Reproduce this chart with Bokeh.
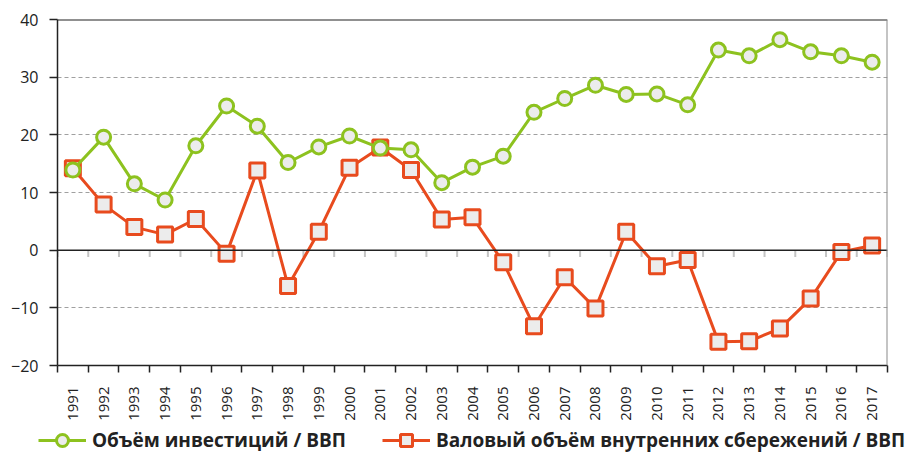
import math
from bokeh.plotting import figure
from bokeh.models import FixedTicker, Span, Legend, LegendItem, ColumnDataSource, Range1d
from bokeh.embed import file_html
from bokeh.resources import INLINE

years = list(range(1991, 2018))
investment = [13.9, 19.6, 11.5, 8.7, 18.1, 25.0, 21.5, 15.2, 17.9, 19.8, 17.7, 17.4, 11.7,
              14.4, 16.3, 23.9, 26.3, 28.6, 27.0, 27.1, 25.2, 34.7, 33.7, 36.5, 34.4, 33.7, 32.6]
savings = [14.2, 7.9, 4.0, 2.7, 5.4, -0.6, 13.8, -6.2, 3.2, 14.3, 17.8, 13.9, 5.3,
           5.7, -2.1, -13.2, -4.7, -10.1, 3.2, -2.8, -1.7, -15.9, -15.8, -13.6, -8.4, -0.3, 0.8]
y_ticks = [-20, -10, 0, 10, 20, 30, 40]
legend_labels = ["Объём инвестиций / ВВП", "Валовый объём внутренних сбережений / ВВП"]

GREEN = "#8DC21F"
RED = "#E84B1E"
FILL = "#ECECEC"
FONT = "Open Sans"
DARK = "#222222"

boundaries = [y - 0.5 for y in years] + [years[-1] + 0.5]

p = figure(width=920, height=423, output_backend="svg", toolbar_location=None,
           x_range=Range1d(years[0] - 0.5, years[-1] + 0.5),
           y_range=Range1d(y_ticks[0], y_ticks[-1]),
           min_border_left=57, min_border_top=19, min_border_right=33, min_border_bottom=57)
p.outline_line_color = None

# x axis
p.xaxis.ticker = FixedTicker(ticks=years, minor_ticks=boundaries)
p.xaxis.major_tick_out = 0
p.xaxis.major_tick_in = 0
p.xaxis.minor_tick_out = 7
p.xaxis.minor_tick_in = 0
p.xaxis.minor_tick_line_color = DARK
p.xaxis.minor_tick_line_width = 1.5
p.xaxis.axis_line_color = DARK
p.xaxis.axis_line_width = 1.5
p.xaxis.major_label_orientation = math.pi / 2
p.xaxis.major_label_standoff = 14
p.xaxis.major_label_text_font = FONT
p.xaxis.major_label_text_font_size = "15px"
p.xaxis.major_label_text_color = DARK

# y axis
p.yaxis.ticker = FixedTicker(ticks=y_ticks)
p.yaxis.major_label_overrides = {t: (str(t).replace("-", "\u2212")) for t in y_ticks}
p.yaxis.major_tick_out = 8
p.yaxis.major_tick_in = 0
p.yaxis.minor_tick_line_color = None
p.yaxis.major_tick_line_color = DARK
p.yaxis.major_tick_line_width = 1.5
p.yaxis.axis_line_color = DARK
p.yaxis.axis_line_width = 1.5
p.yaxis.major_label_standoff = 11
p.yaxis.major_label_text_font = FONT
p.yaxis.major_label_text_font_size = "16px"
p.yaxis.major_label_text_color = DARK

p.xgrid.grid_line_color = None
p.ygrid.ticker = FixedTicker(ticks=[t for t in y_ticks if t not in (0, y_ticks[0], y_ticks[-1])])
p.ygrid.grid_line_color = "#A0A0A0"
p.ygrid.grid_line_dash = "4 3"
p.ygrid.grid_line_width = 1

# zero line, top border, right border
p.add_layout(Span(location=0, dimension="width", line_color=DARK, line_width=1.5))
p.add_layout(Span(location=y_ticks[-1], dimension="width", line_color=DARK, line_width=2))
p.add_layout(Span(location=years[-1] + 0.5, dimension="height", line_color="#8A8A8A", line_width=2))

# small gray ticks under zero line
p.segment(x0=boundaries, y0=[0] * len(boundaries), x1=boundaries, y1=[-1.2] * len(boundaries),
          line_color="#C4C4C4", line_width=2)

src = ColumnDataSource(dict(x=years, inv=investment, sav=savings))

# savings first, investment drawn on top (as in the reference)
p.line("x", "sav", source=src, line_color=RED, line_width=3)
p.scatter("x", "sav", source=src, marker="square", size=15, line_color=RED,
          line_width=3, fill_color=FILL)
p.line("x", "inv", source=src, line_color=GREEN, line_width=3)
p.scatter("x", "inv", source=src, marker="circle", size=14, line_color=GREEN,
          line_width=3, fill_color=FILL)

# separate legend figure (own root, so its frame spans the full width)
lg = figure(width=920, height=34, output_backend="svg", toolbar_location=None,
            x_range=Range1d(0, 1), y_range=Range1d(0, 1),
            x_axis_location=None, y_axis_location=None,
            min_border_left=0, min_border_right=0, min_border_top=0, min_border_bottom=0)
lg.grid.visible = False
lg.outline_line_color = None

# invisible dummy renderers (one point outside the visible range) for the legend glyphs
dummy = ColumnDataSource(dict(x=[-5], y=[-5]))
g1 = lg.line("x", "y", source=dummy, line_color=GREEN, line_width=3)
g1m = lg.scatter("x", "y", source=dummy, marker="circle", size=14, line_color=GREEN,
                 line_width=3, fill_color=FILL)
g2 = lg.line("x", "y", source=dummy, line_color=RED, line_width=3)
g2m = lg.scatter("x", "y", source=dummy, marker="square", size=15, line_color=RED,
                 line_width=3, fill_color=FILL)

legend = Legend(items=[LegendItem(label=legend_labels[0], renderers=[g1, g1m]),
                       LegendItem(label=legend_labels[1], renderers=[g2, g2m])],
                orientation="horizontal", location=(38, 2),
                label_text_font=FONT, label_text_font_size="19px", label_text_font_style="bold",
                label_text_color=DARK, glyph_width=48, glyph_height=30,
                label_standoff=6, spacing=36, padding=0, margin=0,
                border_line_color=None, background_fill_alpha=0)
lg.add_layout(legend, "center")

open("out.html", "w").write(file_html([p, lg], INLINE))
